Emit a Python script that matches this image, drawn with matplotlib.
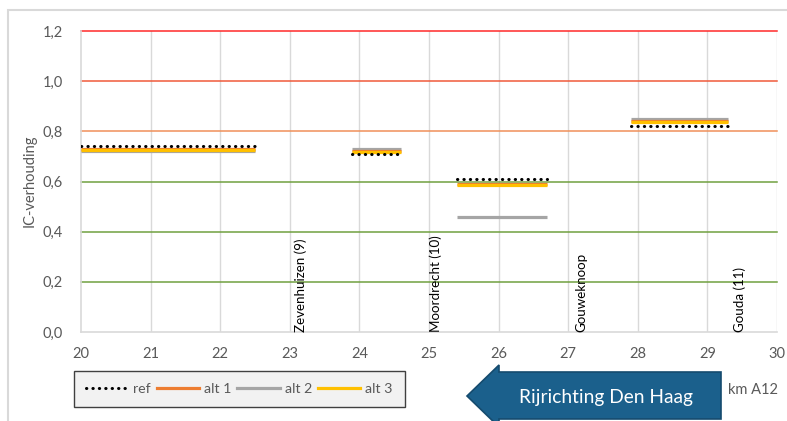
import matplotlib
matplotlib.use("Agg")
import matplotlib.pyplot as plt
from matplotlib.patches import Polygon, Rectangle
from matplotlib.lines import Line2D

plt.rcParams['font.family'] = ['Lato', 'DejaVu Sans']

# Road sections along the A12 (km) and IC ratios per alternative
seg_start = [20.0, 23.9, 25.4, 27.9]
seg_end = [22.5, 24.6, 26.7, 29.3]
ref = [0.74, 0.71, 0.61, 0.82]
alt1 = [0.728, 0.72, 0.592, 0.842]
alt2 = [0.72, 0.73, 0.46, 0.85]
alt3 = [0.724, 0.717, 0.588, 0.839]

stations = ["Zevenhuizen (9)", "Moordrecht (10)", "Gouweknoop", "Gouda (11)"]
station_km = [23.16, 25.1, 27.19, 29.47]

x_ticks = [20, 21, 22, 23, 24, 25, 26, 27, 28, 29, 30]
y_ticks = [0.0, 0.2, 0.4, 0.6, 0.8, 1.0, 1.2]
y_tick_labels = ["0,0", "0,2", "0,4", "0,6", "0,8", "1,0", "1,2"]

W, H = 787, 421
fig = plt.figure(figsize=(W / 100, H / 100), dpi=100)
fig.patch.set_facecolor("white")

def fx(px):
    return px / W

def fy(py):
    return 1 - py / H

# outer chart frame
fig.patches.append(Rectangle((fx(7.5), fy(440)), fx(800), fy(10) - fy(440),
                             transform=fig.transFigure, fill=False,
                             edgecolor="#d9d9d9", lw=1.5))

ax = fig.add_axes([fx(81), fy(332), fx(777) - fx(81), fy(31) - fy(332)])
ax.set_xlim(20, 30)
ax.set_ylim(0, 1.2)

grey_txt = "#595959"
ax.set_xticks(x_ticks)
ax.set_xticklabels([str(t) for t in x_ticks])
ax.set_yticks(y_ticks)
ax.set_yticklabels(y_tick_labels)
ax.tick_params(axis="both", length=0, labelsize=10.5, colors=grey_txt)
ax.tick_params(axis="y", pad=13)
ax.tick_params(axis="x", pad=11)

for t in x_ticks[1:]:
    ax.axvline(t, color="#d9d9d9", lw=1, zorder=0)

grid_colors = ["#70a040", "#70a040", "#70a040", "#f0905a", "#f05a3a", "#ff2a2a"]
for yv, c in zip(y_ticks[1:], grid_colors):
    ax.axhline(yv, color=c, lw=1.1, zorder=1, clip_on=False)

ax.spines["top"].set_visible(False)
ax.spines["right"].set_visible(False)
for side in ["left", "bottom"]:
    ax.spines[side].set_color("#d9d9d9")
    ax.spines[side].set_linewidth(1.2)

lw = 2.3
for i in range(len(seg_start)):
    xs = [seg_start[i], seg_end[i]]
    ax.plot(xs, [alt2[i]] * 2, color="#a5a5a5", lw=lw, solid_capstyle="butt", zorder=3)
    ax.plot(xs, [alt1[i]] * 2, color="#ed7d31", lw=lw, solid_capstyle="butt", zorder=4)
    ax.plot(xs, [alt3[i]] * 2, color="#ffc000", lw=lw, solid_capstyle="butt", zorder=5)
    ax.plot(xs, [ref[i]] * 2, color="black", lw=2.2, linestyle=(0, (0.1, 2.0)),
            dash_capstyle="round", zorder=6)

for name, km in zip(stations, station_km):
    ax.text(km, 0.0, name, rotation=90, ha="center", va="bottom",
            fontsize=9.6, color="black", zorder=7)

fig.text(fx(30), fy(181), "IC-verhouding", rotation=90, ha="center", va="center",
         fontsize=10.5, color=grey_txt)

# legend
handles = [
    Line2D([], [], color="black", lw=2.2, linestyle=(0, (0.1, 2.0)), dash_capstyle="round"),
    Line2D([], [], color="#ed7d31", lw=2.3),
    Line2D([], [], color="#a5a5a5", lw=2.3),
    Line2D([], [], color="#ffc000", lw=2.3),
]
leg = fig.legend(handles, ["ref", "alt 1", "alt 2", "alt 3"], ncol=4,
                 loc="upper left", bbox_to_anchor=(fx(74), fy(371)),
                 fontsize=10.2, frameon=True, fancybox=False,
                 facecolor="#f2f2f2", edgecolor="#404040", framealpha=1,
                 handlelength=3.0, handletextpad=0.35, columnspacing=0.4,
                 borderpad=0.85, borderaxespad=0)
for t in leg.get_texts():
    t.set_color(grey_txt)
leg.get_frame().set_linewidth(1.0)

# driving direction arrow
tip_x, tip_y = 467, 396
head_x, body_r = 499, 721
pts = [(tip_x, tip_y), (head_x, 365), (head_x, 372), (body_r, 372),
       (body_r, 419), (head_x, 419), (head_x, 427)]
fig.patches.append(Polygon([(fx(px), fy(py)) for px, py in pts], closed=True,
                           transform=fig.transFigure, facecolor="#1b608c",
                           edgecolor="#154b6e", lw=1.2))
fig.text(fx(606), fy(397), "Rijrichting Den Haag", ha="center", va="center",
         fontsize=13.8, color="white")

fig.text(fx(728), fy(390), "km A12", ha="left", va="center", fontsize=10.5,
         color=grey_txt)

fig.savefig("out.png", dpi=100)
